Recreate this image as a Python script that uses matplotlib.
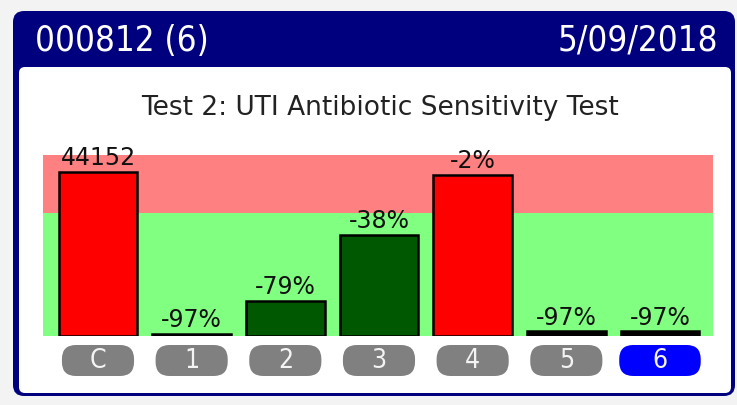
import matplotlib
matplotlib.use("Agg")
import matplotlib.pyplot as plt
from matplotlib.patches import FancyBboxPatch
from matplotlib.transforms import blended_transform_factory

# ---- data ----
categories = ["C", "1", "2", "3", "4", "5", "6"]
bar_levels = [90.7, 1.2, 19.2, 56.0, 89.0, 2.5, 2.5]      # bar height (display scale 0-100)
bar_labels = ["44152", "-97%", "-79%", "-38%", "-2%", "-97%", "-97%"]
bar_colors = ["#ff0000", "#005800", "#005800", "#005800", "#ff0000", "#000000", "#000000"]
threshold = 68.1          # boundary between green and red zone
y_max = 100.0
selected = "6"
header_left = "000812 (6)"
header_right = "5/09/2018"
title = "Test 2: UTI Antibiotic Sensitivity Test"

W, H = 737, 406
fig = plt.figure(figsize=(W / 100, H / 100), dpi=100)
fig.patch.set_facecolor("#f3f3f3")

COND = dict(family="DejaVu Sans", stretch="condensed")
REG = dict(family="DejaVu Sans")

# ---- frame (pixel coordinates) ----
bg = fig.add_axes([0, 0, 1, 1])
bg.set_xlim(0, W)
bg.set_ylim(H, 0)
bg.axis("off")
navy = "#00007f"
bg.add_patch(FancyBboxPatch((13, 12), 722, 385, boxstyle="round,pad=0,rounding_size=11",
                            fc=navy, ec=navy, lw=0))
bg.add_patch(FancyBboxPatch((19, 68), 712, 326, boxstyle="round,pad=0,rounding_size=6",
                            fc="white", ec="none", lw=0))
bg.text(35, 41, header_left, color="white", fontsize=25, va="center", ha="left", **COND)
bg.text(718, 41, header_right, color="white", fontsize=25, va="center", ha="right", **COND)
bg.text(380, 108, title, color="#222222", fontsize=19, va="center", ha="center", **REG)

# ---- chart ----
left_px, right_px, top_px, base_px = 43, 713, 156, 337
ax = fig.add_axes([left_px / W, (H - base_px) / H, (right_px - left_px) / W, (base_px - top_px) / H])
ax.patch.set_alpha(0)
x = list(range(len(categories)))
ax.set_xlim(-0.587, 6.566)
ax.set_ylim(0, y_max)
ax.axhspan(0, threshold, color="#80ff80", lw=0, zorder=0)
ax.axhspan(threshold, y_max, color="#ff8080", lw=0, zorder=0)
bars = ax.bar(x, bar_levels, width=0.84, color=bar_colors, edgecolor="black", linewidth=1.8, zorder=2)
for xi, h, lab in zip(x, bar_levels, bar_labels):
    ax.annotate(lab, (xi, h), xytext=(0, 2), textcoords="offset points", ha="center", va="bottom",
                fontsize=17, color="#111111", annotation_clip=False, zorder=3, **REG)
for s in ax.spines.values():
    s.set_visible(False)
ax.set_xticks([])
ax.set_yticks([])

# category pills under the bars
tr = blended_transform_factory(ax.transData, ax.transAxes)
pill_h = 31 / (base_px - top_px)
pill_y = -(377 - base_px) / (base_px - top_px)
px_per_unit = (right_px - left_px) / (6.566 + 0.587)
for xi, cat in zip(x, categories):
    sel = cat == selected
    w = 0.87 if sel else 0.77
    r = 14 / px_per_unit
    asp = (14 / (base_px - top_px)) / r
    ax.add_patch(FancyBboxPatch((xi - w / 2, pill_y), w, pill_h, transform=tr, clip_on=False,
                                boxstyle=f"round,pad=0,rounding_size={r}", mutation_aspect=asp,
                                fc="#0000ff" if sel else "#808080", ec="none"))
    ax.text(xi, pill_y + pill_h / 2, cat, transform=tr, ha="center", va="center",
            color="#f4f4f4", fontsize=19, clip_on=False, **COND)

fig.savefig("out.png", dpi=100, facecolor=fig.get_facecolor())
